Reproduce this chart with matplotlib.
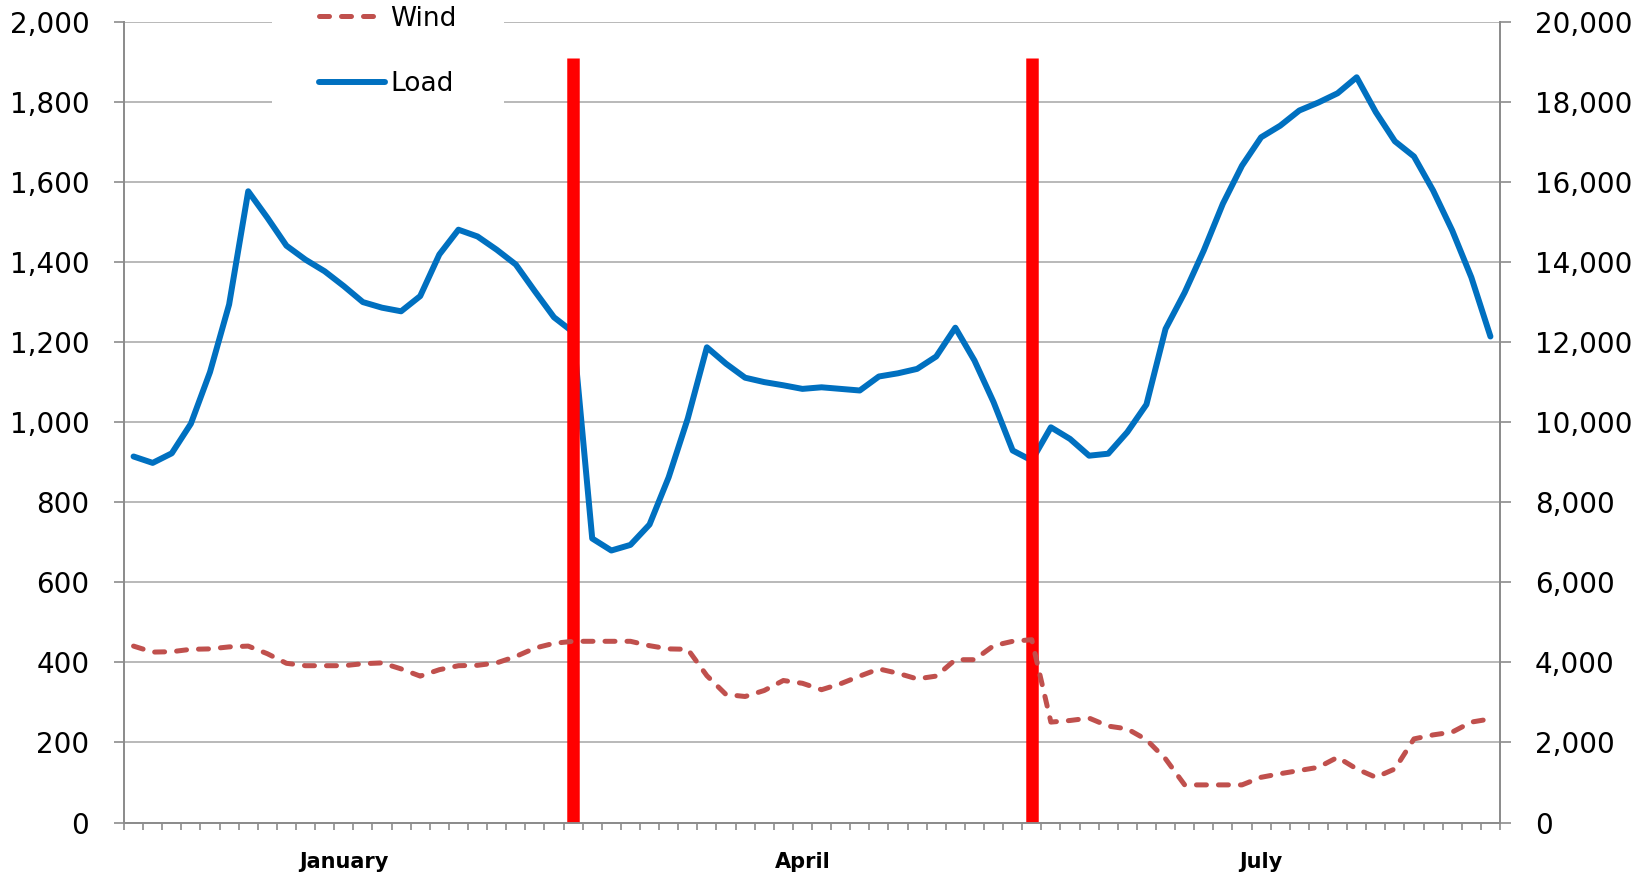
import matplotlib
matplotlib.use("Agg")
import matplotlib.pyplot as plt
from matplotlib.lines import Line2D
from matplotlib.ticker import FuncFormatter, MultipleLocator

# weekly values, 72 points (Jan - Sep)
load = [9150, 8990, 9230, 9970, 11260, 12950, 15780, 15120, 14420, 14070,
        13780, 13410, 13010, 12870, 12780, 13160, 14200, 14820, 14650, 14320,
        13950, 13280, 12630, 12260, 7100, 6800, 6940, 7450, 8630, 10100,
        11880, 11470, 11120, 11010, 10930, 10840, 10880, 10840, 10800, 11150,
        11230, 11340, 11650, 12370, 11550, 10510, 9300, 9050, 9880, 9590,
        9170, 9220, 9760, 10450, 12340, 13250, 14300, 15470, 16420, 17130,
        17420, 17800, 18000, 18230, 18630, 17760, 17030, 16650, 15800, 14800,
        13630, 12150]
wind = [441, 426, 427, 433, 434, 439, 441, 422, 398, 392,
        392, 392, 397, 399, 384, 366, 382, 392, 393, 399,
        415, 436, 448, 453, 453, 453, 453, 442, 434, 433,
        367, 320, 315, 330, 355, 348, 332, 347, 366, 384,
        373, 359, 366, 407, 407, 442, 453, 457, 251, 255,
        261, 241, 234, 207, 159, 94, 94, 94, 94, 113,
        122, 130, 138, 163, 134, 113, 134, 209, 219, 226,
        251, 259]
months = ["January", "April", "July"]
month_pos = [11, 35, 59]
divider_pos = [23, 47]
divider_top = 1910

x = list(range(len(load)))

fig = plt.figure(figsize=(16.48, 8.75), dpi=100)
ax = fig.add_axes([0.07524, 0.06, 0.83495, 0.9143])
ax2 = ax.twinx()

grey = "#8c8c8c"

# load on the right scale (drawn first, gridlines below it)
ax.plot(x, load, color="#0070c0", lw=4.3, solid_joinstyle="round",
        solid_capstyle="round", zorder=3)
ax.set_ylim(0, 20000)
ax.yaxis.tick_right()
ax.yaxis.set_major_locator(MultipleLocator(2000))
ax.grid(axis="y", color="#a6a6a6", lw=1.1)
ax.set_axisbelow(True)

# wind + dividers on the left scale
ax2.vlines(divider_pos, 0, divider_top, color="#ff0000", lw=9, zorder=2)
ax2.plot(x, wind, color="#c0504d", lw=3.6, dashes=(2.0, 2.4),
         dash_capstyle="round", zorder=3)
ax2.set_ylim(0, 2000)
ax2.yaxis.tick_left()
ax2.yaxis.set_major_locator(MultipleLocator(200))

fmt = FuncFormatter(lambda v, p: "{:,.0f}".format(v))
for a in (ax, ax2):
    a.yaxis.set_major_formatter(fmt)
    a.set_xlim(-0.5, len(load) - 0.5)
    for s in a.spines.values():
        s.set_color(grey)
        s.set_linewidth(1.3)
    a.spines["top"].set_visible(False)

ax.tick_params(axis="y", direction="out", length=8, width=1.2, color=grey,
               labelsize=20, pad=17, right=True, left=False,
               labelright=True, labelleft=False)
ax2.tick_params(axis="y", direction="out", length=7, width=1.2, color=grey,
                labelsize=20, pad=18, left=True, right=False,
                labelleft=True, labelright=False)

ax.set_xticks(month_pos)
ax.set_xticklabels(months, fontsize=15, fontweight="bold")
ax.set_xticks([i - 0.5 for i in range(len(load) + 1)], minor=True)
ax.tick_params(axis="x", which="major", length=0, pad=21)
ax.tick_params(axis="x", which="minor", direction="out", length=5,
               width=1.2, color=grey)
ax2.tick_params(axis="x", which="both", length=0, labelbottom=False)

handles = [Line2D([], [], color="#c0504d", lw=3.6, dashes=(2.0, 2.4),
                  dash_capstyle="round"),
           Line2D([], [], color="#0070c0", lw=4.3, solid_capstyle="round")]
leg = ax2.legend(handles, ["Wind", "Load"], loc="center",
                 bbox_to_anchor=(388 / 1648, 1 - 51.5 / 875),
                 bbox_transform=fig.transFigure, fontsize=19,
                 frameon=True, facecolor="white", edgecolor="none",
                 framealpha=1, fancybox=False, borderpad=1.8,
                 labelspacing=1.5, handlelength=2.5, handletextpad=0.2)
leg.set_zorder(10)

fig.savefig("out.png", dpi=100)
